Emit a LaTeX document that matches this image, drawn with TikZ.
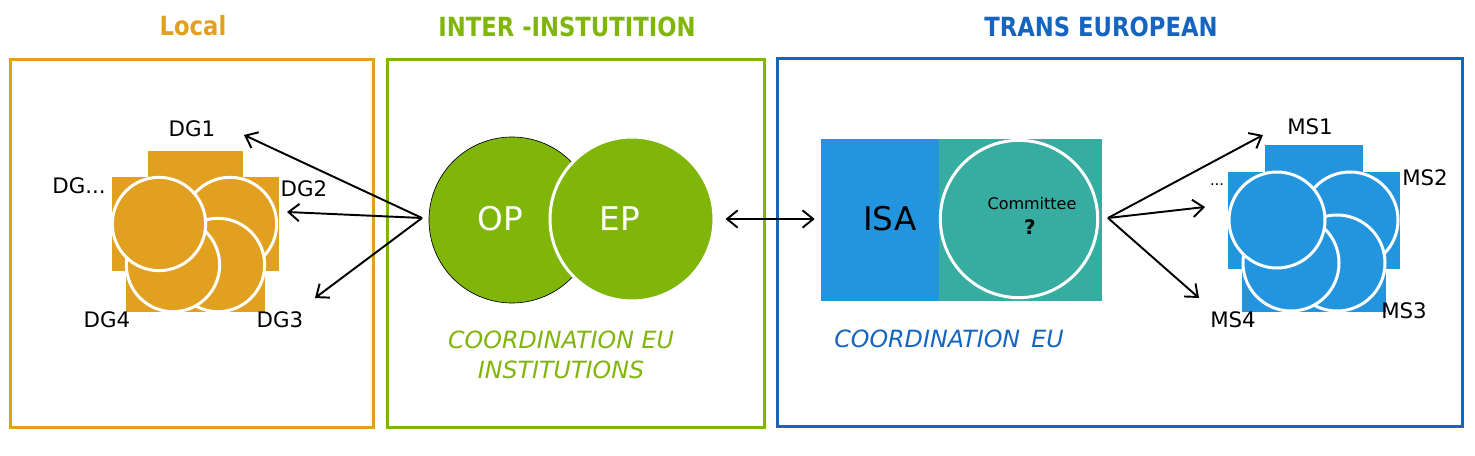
\documentclass[tikz,border=0pt]{standalone}
\usepackage{fontspec}
\setmainfont{DejaVu Sans}
\newfontfamily\titlefont[FakeStretch=0.86]{DejaVu Sans}
\usetikzlibrary{arrows.meta}
\definecolor{orng}{HTML}{E2A020}
\definecolor{grn}{HTML}{80B50A}
\definecolor{dblue}{HTML}{1565C0}
\definecolor{lblue}{HTML}{2395DE}
\definecolor{tealc}{HTML}{37ACA0}
\tikzset{
  frame/.style={line width=2.25pt},
  ttl/.style={font=\titlefont\bfseries\fontsize{19.8}{22}\selectfont},
  blob/.style={circle, draw=white, line width=2.25pt, inner sep=0pt, minimum size=70pt},
  lbl/.style={font=\fontsize{16}{18}\selectfont, inner sep=1pt},
  big/.style={font=\fontsize{24.5}{26}\selectfont, inner sep=0pt},
  coord/.style={font=\itshape\fontsize{17.8}{22}\selectfont, align=center},
  arr/.style={-{Straight Barb[length=8pt,width=13pt]}, line width=1.45pt},
  arrb/.style={{Straight Barb[length=8pt,width=13pt]}-{Straight Barb[length=8pt,width=13pt]}, line width=1.45pt},
}
\begin{document}
\begin{tikzpicture}[x=0.75pt,y=-0.75pt]
\useasboundingbox (0,0) rectangle (1475,456);
% titles
\node[ttl, text=orng] (tloc) at (193,26) {Local};
\node[ttl, text=grn] (tint) at (567,27) {INTER -INSTUTITION};
\node[ttl, text=dblue] (ttra) at (1101,27) {TRANS EUROPEAN};
% frames
\draw[frame, orng] (10,60) rectangle (373,427);
\draw[frame, grn] (387,60) rectangle (764,427);
\draw[frame, dblue] (777,59) rectangle (1462,426);
% DG cluster
\fill[orng] (148,151) rectangle (243,245);
\fill[orng] (112,177) rectangle (206,271);
\fill[orng] (183,177) rectangle (279,271);
\fill[orng] (171,218) rectangle (265,312);
\fill[orng] (126,218) rectangle (220,312);
\node[blob, fill=orng] (dgb) at (230,224) {};
\node[blob, fill=orng] (dgc) at (218,265) {};
\node[blob, fill=orng] (dgd) at (173,265) {};
\node[blob, fill=orng] (dga) at (159,224) {};
\node[lbl] (dg1) at (192,129) {DG1};
\node[lbl] (dgx) at (79,186) {DG...};
\node[lbl] (dg2) at (304,189) {DG2};
\node[lbl] (dg4) at (107,320) {DG4};
\node[lbl] (dg3) at (280,320) {DG3};
% OP / EP
\node[circle, fill=grn, draw=black, line width=0.5pt, minimum size=124.5pt, inner sep=0pt] (op) at (512,220) {};
\node[circle, fill=grn, draw=white, line width=2.25pt, minimum size=123pt, inner sep=0pt] (ep) at (632,219) {};
\node[big, text=white] (opt) at (500,219) {OP};
\node[big, text=white] (ept) at (620,219) {EP};
\node[coord, text=grn] (cinst) at (561,355) {COORDINATION EU\\INSTITUTIONS};
% ISA / Committee
\node[rectangle, fill=lblue, minimum width=88.5pt, minimum height=121.5pt, inner sep=0pt] (isa) at (880,220) {};
\node[rectangle, fill=tealc, minimum width=122.25pt, minimum height=121.5pt, inner sep=0pt] (tbox) at (1020.5,220) {};
\node[circle, fill=tealc, draw=white, line width=2.25pt, minimum size=118pt, inner sep=0pt] (comm) at (1019,219) {};
\node[big] (isat) at (890,219) {ISA};
\node[font=\fontsize{12}{14}\selectfont] (commt) at (1032,204) {Committee};
\node[font=\bfseries\fontsize{15}{17}\selectfont] (q) at (1030,227) {?};
\node[coord, text=dblue] (ceu) at (949,339) {COORDINATION\hspace{0.15em} EU};
% MS cluster
\fill[lblue] (1265,145) rectangle (1363,240);
\fill[lblue] (1228,172) rectangle (1326,269);
\fill[lblue] (1301,172) rectangle (1400,269);
\fill[lblue] (1288,214) rectangle (1386,312);
\fill[lblue] (1242,214) rectangle (1340,312);
\node[blob, fill=lblue, minimum size=72pt] (msb) at (1350,220) {};
\node[blob, fill=lblue, minimum size=72pt] (msc) at (1337,263) {};
\node[blob, fill=lblue, minimum size=72pt] (msd) at (1291,263) {};
\node[blob, fill=lblue, minimum size=72pt] (msa) at (1277,220) {};
\node[lbl] (ms1) at (1310,127) {MS1};
\node[lbl] (ms2) at (1425,178) {MS2};
\node[lbl] (ms3) at (1404,311) {MS3};
\node[lbl] (ms4) at (1233,320) {MS4};
\node[font=\fontsize{11}{12}\selectfont] (msx) at (1217,185) {...};
% arrows
\coordinate (src1) at (422,218);
\coordinate (e1) at (244,135);
\coordinate (e2) at (287,212);
\coordinate (e3) at (315,298);
\draw[arr] (src1) -- (e1);
\draw[arr] (src1) -- (e2);
\draw[arr] (src1) -- (e3);
\draw[arrb, shorten <=7.5pt, shorten >=4.5pt] (ep.east) -- (ep.east -| isa.west);
\coordinate (src2) at (1108,218);
\coordinate (f1) at (1263,135);
\coordinate (f2) at (1205,207);
\coordinate (f3) at (1199,298);
\draw[arr] (src2) -- (f1);
\draw[arr] (src2) -- (f2);
\draw[arr] (src2) -- (f3);
\end{tikzpicture}
\end{document}
